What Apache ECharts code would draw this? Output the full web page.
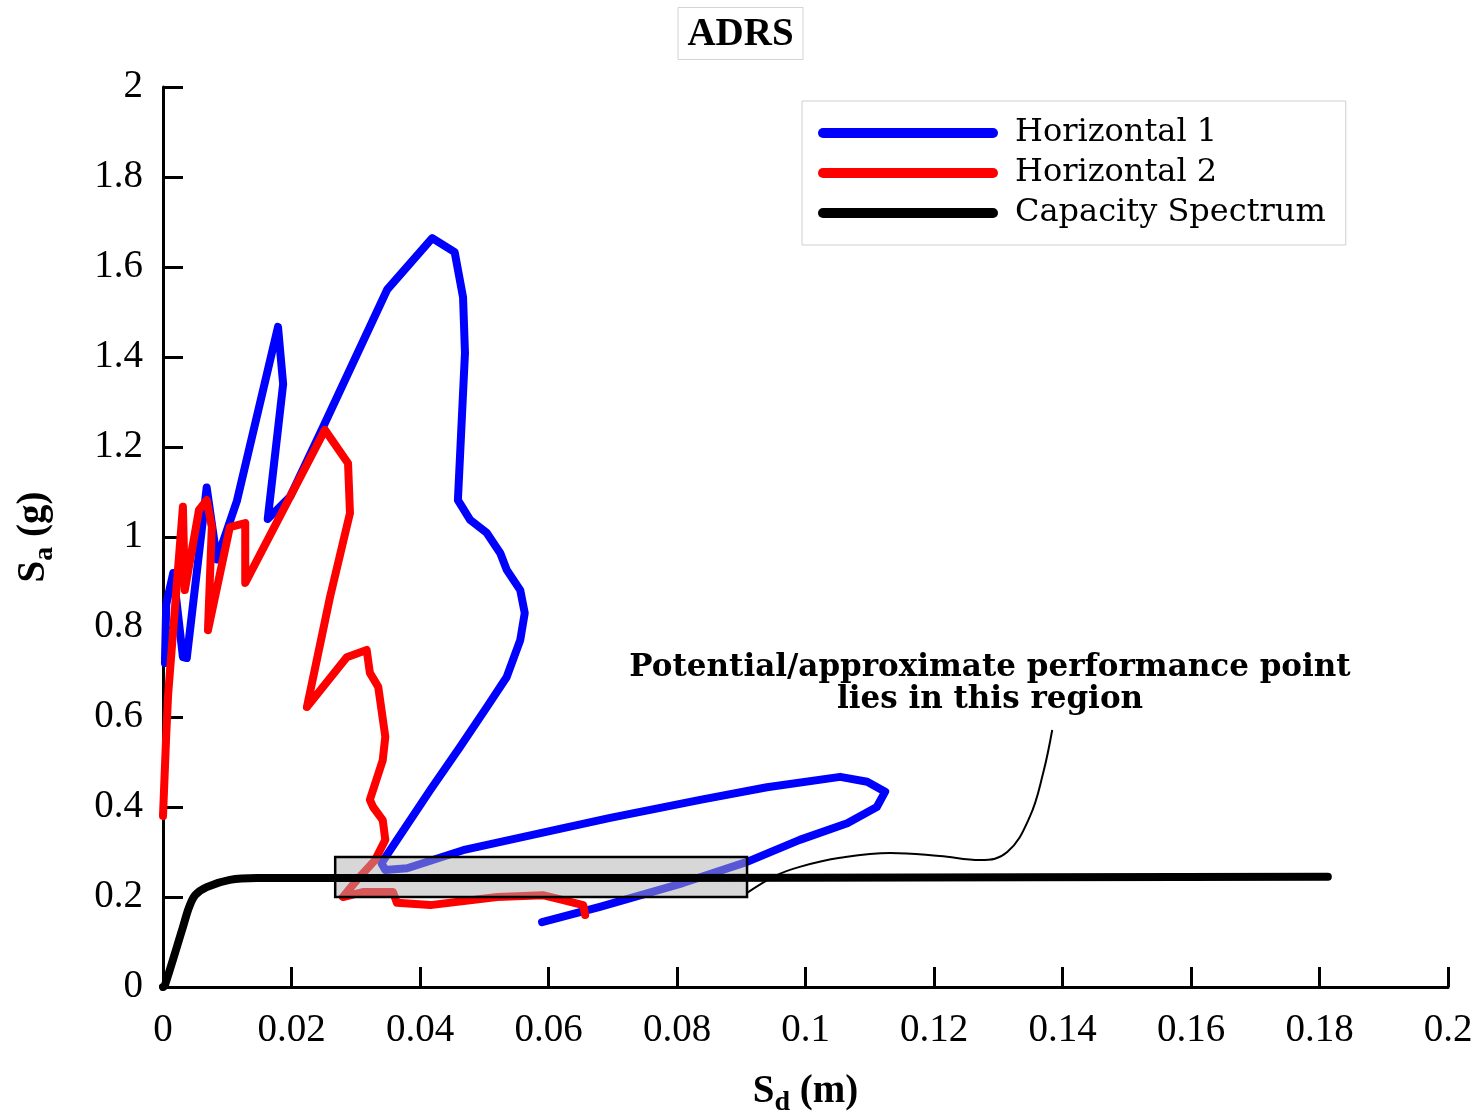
<!DOCTYPE html>
<html>
<head>
<meta charset="utf-8">
<script src="https://cdn.jsdelivr.net/npm/echarts@6/dist/echarts.min.js"></script>
<style>html,body{margin:0;padding:0;background:#fff}#c{width:1481px;height:1118px}</style>
</head>
<body>
<div id="c"></div>
<script>
// ---- data: [Sd (m), Sa (g)] ----
const horizontal1 = [
  [0.0003,0.72],[0.0005,0.85],[0.0016,0.92],[0.0031,0.733],[0.0037,0.731],[0.0068,1.11],
  [0.0084,0.95],[0.0115,1.08],[0.0179,1.467],[0.0187,1.34],[0.0163,1.04],[0.0198,1.09],
  [0.0249,1.244],[0.0349,1.55],[0.0419,1.664],[0.0454,1.633],[0.0467,1.533],[0.0470,1.409],
  [0.0459,1.082],[0.0478,1.038],[0.0504,1.009],[0.0525,0.964],[0.0535,0.927],[0.0556,0.882],
  [0.0563,0.831],[0.0556,0.771],[0.0535,0.689],[0.0504,0.622],[0.0462,0.533],[0.0416,0.438],
  [0.0340,0.275],[0.0346,0.260],[0.0380,0.264],[0.0467,0.304],[0.0623,0.353],[0.0696,0.376],
  [0.0836,0.416],[0.0940,0.444],[0.1054,0.467],[0.1096,0.456],[0.1124,0.434],[0.1111,0.400],
  [0.1065,0.364],[0.0991,0.327],[0.0909,0.278],[0.0809,0.231],[0.0680,0.178],[0.0590,0.144]
];
const horizontal2 = [
  [0.0000,0.38],[0.0005,0.56],[0.0008,0.65],[0.0031,1.067],[0.0034,0.882],[0.0056,1.06],
  [0.0068,1.082],[0.0076,1.022],[0.0070,0.793],[0.0104,1.022],[0.0128,1.031],[0.0128,0.898],
  [0.0252,1.238],[0.0288,1.164],[0.0291,1.053],[0.0260,0.867],[0.0224,0.622],[0.0286,0.733],
  [0.0317,0.749],[0.0322,0.698],[0.0335,0.667],[0.0346,0.556],[0.0342,0.504],[0.0322,0.416],
  [0.0327,0.400],[0.0342,0.371],[0.0346,0.327],[0.0330,0.282],[0.0302,0.238],[0.0280,0.200],
  [0.0311,0.211],[0.0358,0.211],[0.0364,0.187],[0.0416,0.182],[0.0520,0.200],[0.0591,0.204],
  [0.0623,0.193],[0.0654,0.182],[0.0657,0.160]
];
const capacitySpectrum = [
  [0,0],[0.0003,0.004],[0.0031,0.133],[0.0040,0.175],[0.0050,0.204],[0.0068,0.222],
  [0.0104,0.238],[0.0146,0.242],[0.05,0.242],[0.10,0.243],[0.1813,0.245]
];
const pointerCurve = [
  [0.0909,0.209],[0.0953,0.247],[0.0991,0.267],[0.1054,0.287],[0.1132,0.298],[0.1209,0.291],
  [0.1272,0.282],[0.1314,0.300],[0.1349,0.378],[0.1370,0.476],[0.1384,0.571]
];
const regionBox = [[0.0268,0.200],[0.0909,0.289]];
const seriesNames = ['Horizontal 1','Horizontal 2','Capacity Spectrum'];
const annotationLines = ['Potential/approximate performance point','lies in this region'];
const xTicks = {min:0, max:0.2, interval:0.02};
const yTicks = {min:0, max:2, interval:0.2};

const chart = echarts.init(document.getElementById('c'));
const serif = 'Liberation Serif';
const capsule = 'path://M5,0 L175,0 A5,5 0 0 1 175,10 L5,10 A5,5 0 0 1 5,0 Z';
function fmt(v){ return (Math.round(v*100)/100).toString(); }
const nameRich = {
  s:{fontFamily:serif, fontWeight:'bold', fontSize:39, lineHeight:50, verticalAlign:'middle', color:'#000'},
  sub:{fontFamily:serif, fontWeight:'bold', fontSize:28, lineHeight:28, verticalAlign:'bottom', color:'#000'}
};

chart.setOption({
  animation:false,
  backgroundColor:'#fff',
  title:{
    text:'ADRS', left:'center', top:7,
    padding:[8,10,6,10], borderColor:'#d4d4d4', borderWidth:1,
    textStyle:{fontFamily:serif, fontWeight:'bold', fontSize:39, color:'#000'}
  },
  legend:{
    orient:'vertical', left:802, top:101,
    padding:[16,20,16,16], itemGap:8, itemWidth:180, itemHeight:10,
    borderColor:'#cfcfcf', borderWidth:1,
    icon:capsule,
    data:seriesNames,
    textStyle:{fontFamily:'DejaVu Serif', fontSize:32, lineHeight:30, color:'#000', padding:[0,0,0,12]}
  },
  grid:{left:163, right:33, top:87, bottom:131, containLabel:false, outerBoundsMode:'none'},
  xAxis:{
    type:'value', min:xTicks.min, max:xTicks.max, interval:xTicks.interval,
    axisLine:{lineStyle:{color:'#000', width:3}},
    axisTick:{inside:true, length:20, lineStyle:{color:'#000', width:3}},
    splitLine:{show:false},
    axisLabel:{fontFamily:serif, fontSize:39, color:'#000', margin:24, formatter:fmt},
    name:'{s|S}{sub|d}{s| (m)}', nameLocation:'middle', nameGap:80,
    nameTextStyle:{rich:nameRich}
  },
  yAxis:{
    type:'value', min:yTicks.min, max:yTicks.max, interval:yTicks.interval,
    axisLine:{lineStyle:{color:'#000', width:3}},
    axisTick:{inside:true, length:20, lineStyle:{color:'#000', width:3}},
    splitLine:{show:false},
    axisLabel:{fontFamily:serif, fontSize:39, color:'#000', margin:20, formatter:fmt},
    name:'{s|S}{sub|a}{s| (g)}', nameLocation:'middle', nameGap:104, nameRotate:90,
    nameTextStyle:{rich:nameRich}
  },
  series:[
    {name:seriesNames[0], type:'line', data:horizontal1, color:'#0000ff', showSymbol:false, symbol:'none',
     lineStyle:{width:8, color:'#0000ff', cap:'round', join:'round'}, z:2},
    {name:seriesNames[1], type:'line', data:horizontal2, color:'#ff0000', showSymbol:false, symbol:'none',
     lineStyle:{width:8, color:'#ff0000', cap:'round', join:'round'}, z:2},
    {name:'pointer', type:'line', data:pointerCurve, smooth:0.4, symbol:'none', silent:true,
     lineStyle:{width:2, color:'#000'}, z:3},
    {name:seriesNames[2], type:'line', data:capacitySpectrum, color:'#000', smooth:0.3, symbol:'none',
     lineStyle:{width:8, color:'#000', cap:'round', join:'round'}, z:4,
     markArea:{silent:true, z:3,
       itemStyle:{color:'rgba(175,175,175,0.5)', borderColor:'#000', borderWidth:2.5},
       data:[[{coord:regionBox[0]},{coord:regionBox[1]}]]}}
  ],
  graphic:[
    {type:'text', silent:true, x:990, y:652,
     style:{text:annotationLines.join('\n'), textAlign:'center', fontFamily:'DejaVu Serif',
            fontWeight:'bold', fontSize:31, lineHeight:32, fill:'#000'}}
  ]
});
</script>
</body>
</html>
